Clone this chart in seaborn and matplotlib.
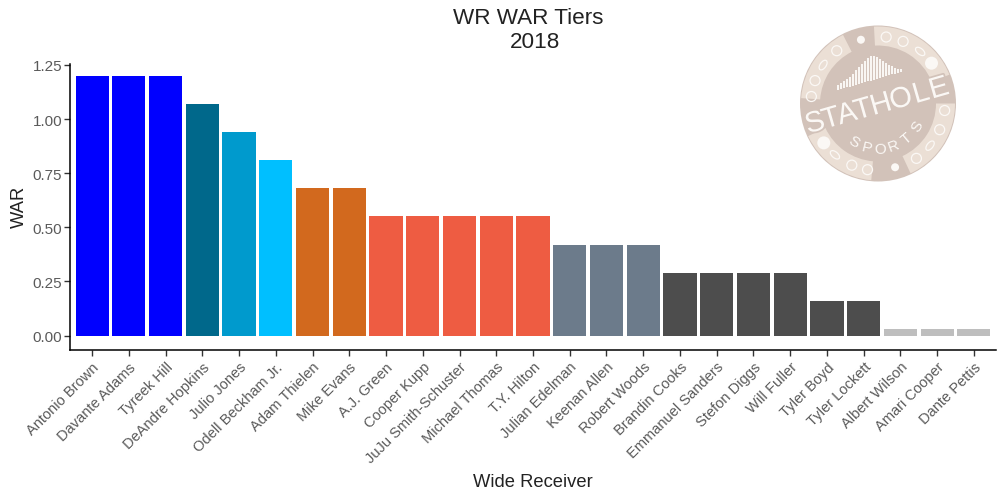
import numpy as np
import pandas as pd
import seaborn as sns
import matplotlib.pyplot as plt
from matplotlib.patches import Circle, Wedge, Ellipse
import matplotlib.patheffects as pe

# WR tiers, values
df = pd.DataFrame({
    "name": ["Antonio Brown", "Davante Adams", "Tyreek Hill", "DeAndre Hopkins", "Julio Jones",
             "Odell Beckham Jr.", "Adam Thielen", "Mike Evans", "A.J. Green", "Cooper Kupp",
             "JuJu Smith-Schuster", "Michael Thomas", "T.Y. Hilton", "Julian Edelman", "Keenan Allen",
             "Robert Woods", "Brandin Cooks", "Emmanuel Sanders", "Stefon Diggs", "Will Fuller",
             "Tyler Boyd", "Tyler Lockett", "Albert Wilson", "Amari Cooper", "Dante Pettis"],
    "war": [1.20, 1.20, 1.20, 1.07, 0.94, 0.81, 0.68, 0.68, 0.55, 0.55, 0.55, 0.55, 0.55,
            0.42, 0.42, 0.42, 0.29, 0.29, 0.29, 0.29, 0.16, 0.16, 0.03, 0.03, 0.03],
    "tier": ["a", "a", "a", "b", "c", "d", "e", "e", "f", "f", "f", "f", "f",
             "g", "g", "g", "h", "h", "h", "h", "i", "i", "j", "j", "j"],
})
tier_colors = {"a": "#0000FF", "b": "#00688B", "c": "#009ACD", "d": "#00BFFF", "e": "#D2691E",
               "f": "#EE5C42", "g": "#6C7B8B", "h": "#4D4D4D", "i": "#4D4D4D", "j": "#BEBEBE"}

sns.set_theme(style="ticks")
plt.rcParams['font.family'] = ['Liberation Sans', 'DejaVu Sans']

W, H = 1005, 502
fig = plt.figure(figsize=(W / 100, H / 100), dpi=100)
ax = fig.add_axes([70 / W, 1 - 350.7 / H, 926 / W, 285.7 / H])
sns.barplot(data=df, x="name", y="war", hue="tier", palette=tier_colors, dodge=False,
            width=0.9, saturation=1, linewidth=0, legend=False, ax=ax)
ax.set_xlim(-0.6, 24.6)
ax.set_ylim(-0.065, 1.254)
ax.set_yticks([0, 0.25, 0.5, 0.75, 1.0, 1.25])
ax.set_yticklabels(["0.00", "0.25", "0.50", "0.75", "1.00", "1.25"])
sns.despine(ax=ax)
for s in ["left", "bottom"]:
    ax.spines[s].set_linewidth(1.1)
    ax.spines[s].set_color("black")
ax.tick_params(axis="both", colors="#333333", labelcolor="#5A5A5A", labelsize=11, width=1, length=4, pad=1.5)
ax.tick_params(axis="x", labelsize=10.5, pad=3)
plt.setp(ax.get_xticklabels(), rotation=45, ha="right", rotation_mode="anchor")
ax.set_xlabel("")
ax.set_ylabel("")
fig.text(533 / W, 1 - 483 / H, "Wide Receiver", ha="center", va="center", fontsize=13.2, color="#222222")
fig.text(19 / W, 1 - 207 / H, "WAR", ha="center", va="center", rotation=90, fontsize=13.2, color="#222222")
fig.text(528.5 / W, 1 - 19 / H, "WR WAR Tiers", ha="center", va="center", fontsize=16.2, color="#222222")
fig.text(534.5 / W, 1 - 43 / H, "2018", ha="center", va="center", fontsize=16.2, color="#222222")

# logo, laid out in figure pixels
lg = fig.add_axes([0, 0, 1, 1])
lg.set_xlim(0, W)
lg.set_ylim(H, 0)
lg.axis("off")
cx, cy = 878, 104.5
dark, light, white = "#D2C2B9", "#EBDFD5", "#FBF8F5"
lg.add_patch(Circle((cx, cy), 78, fc=dark, ec="none"))
# y axis is flipped here so the wedge angles are mirrored
for a0, a1 in [(22, 93), (117, 176), (205, 265), (295, 360)]:
    lg.add_patch(Wedge((cx, cy), 77, -a1, -a0, width=19, fc=light, ec="none"))
for ang in [105, 285]:
    x = cx + 66 * np.cos(np.radians(ang))
    y = cy - 66 * np.sin(np.radians(ang))
    lg.add_patch(Circle((x, y), 4, fc=white, ec="none"))
for ang in [37, 216]:
    x = cx + 67 * np.cos(np.radians(ang))
    y = cy - 67 * np.sin(np.radians(ang))
    lg.add_patch(Circle((x, y), 6.5, fc=white, ec="none"))
for ang, kind in [(83, "o"), (68, "o"), (51, "e"), (128, "o"), (145, "e"), (160, "o"), (174, "o"),
                  (230, "e"), (247, "o"), (261, "o"), (305, "o"), (321, "e"), (337, "o"), (354, "o")]:
    x = cx + 67 * np.cos(np.radians(ang))
    y = cy - 67 * np.sin(np.radians(ang))
    if kind == "o":
        lg.add_patch(Circle((x, y), 5, fc="none", ec=white, lw=0.9))
    else:
        lg.add_patch(Ellipse((x, y), 11, 6, angle=-ang + 90, fc="none", ec=white, lw=0.9))

# skyline bars in the middle of the logo
peak_x = [-40, -37, -34, -31, -28, -25, -22, -19, -16, -13, -10, -7, -4, -1, 2, 5, 8, 11, 14, 17, 20, 23]
peak_h = [5, 6, 7, 8, 10, 12, 15, 17, 19, 21, 23, 25, 24, 22, 19, 16, 13, 10, 8, 6, 4, 3]
for px, ph in zip(peak_x, peak_h):
    base = cy - 14 - 0.29 * (px + 38)
    lg.plot([cx + px, cx + px], [base, base - ph], color=white, lw=1.4, solid_capstyle="butt")

# STATHOLE banner, letter by letter so the spacing is wide
outline = [pe.withStroke(linewidth=2.5, foreground=dark)]
for ch, off in zip("STATHOLE", [-63, -47, -31, -15, 3, 23, 43, 61]):
    lg.text(cx + off, cy + 2 - off * 0.28, ch, fontsize=21, color=white, ha="center", va="center",
            rotation=16, path_effects=outline)

for ch, ang in zip("SPORTS", [238, 256, 272, 290, 310, 330]):
    x = cx + 45 * np.cos(np.radians(ang))
    y = cy - 45 * np.sin(np.radians(ang))
    lg.text(x, y, ch, fontsize=11, color=white, ha="center", va="center", rotation=ang + 90)

fig.savefig("out.png", dpi=100)
